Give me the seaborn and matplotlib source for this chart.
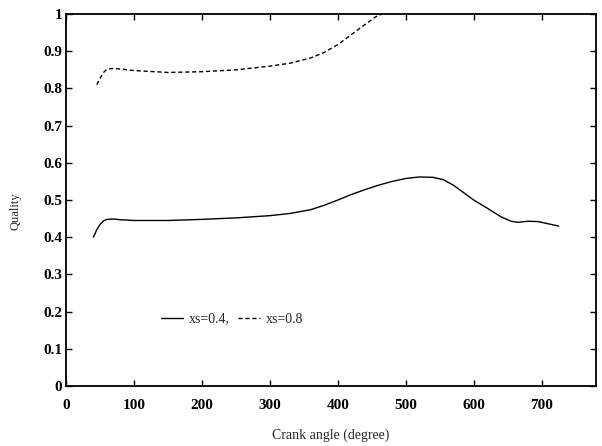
import matplotlib
matplotlib.use("Agg")
import matplotlib.pyplot as plt
import seaborn as sns
import pandas as pd
from matplotlib.ticker import FuncFormatter

# xs = 0.4 (solid)
angle_04 = [40, 45, 50, 55, 60, 70, 80, 100, 150, 200, 250, 300, 330, 360, 380, 400, 420, 440, 460, 480, 500, 520, 540, 555, 570, 585, 600, 620, 640, 655, 665, 680, 695, 710, 725]
qual_04 = [0.40, 0.42, 0.435, 0.444, 0.448, 0.449, 0.447, 0.445, 0.445, 0.448, 0.452, 0.458, 0.464, 0.474, 0.486, 0.500, 0.515, 0.528, 0.540, 0.550, 0.558, 0.562, 0.561, 0.555, 0.540, 0.520, 0.500, 0.478, 0.455, 0.443, 0.440, 0.443, 0.442, 0.436, 0.43]
# xs = 0.8 (dashed)
angle_08 = [45, 50, 55, 60, 70, 80, 100, 150, 200, 250, 300, 330, 360, 380, 400, 420, 440, 455, 465]
qual_08 = [0.81, 0.828, 0.843, 0.852, 0.854, 0.852, 0.848, 0.843, 0.845, 0.850, 0.860, 0.868, 0.882, 0.897, 0.918, 0.945, 0.972, 0.992, 1.0]

x_ticks = [0, 100, 200, 300, 400, 500, 600, 700]
y_ticks = [0, 0.1, 0.2, 0.3, 0.4, 0.5, 0.6, 0.7, 0.8, 0.9, 1.0]

sns.set_theme(style="ticks")
plt.rcParams['font.family'] = ['Liberation Serif', 'DejaVu Serif']

df04 = pd.DataFrame({"angle": angle_04, "q": qual_04})
df08 = pd.DataFrame({"angle": angle_08, "q": qual_08})

fig = plt.figure(figsize=(6.02, 4.46), dpi=100)
ax = fig.add_axes([0.11, 0.1345, 0.88, 0.834])

sns.lineplot(data=df04, x="angle", y="q", ax=ax, color="black", lw=1.0, label="xs=0.4,")
sns.lineplot(data=df08, x="angle", y="q", ax=ax, color="black", lw=1.0, linestyle=(0, (3, 2)), label="xs=0.8")

ax.set_xlim(0, 780)
ax.set_ylim(0, 1)
ax.set_xticks(x_ticks)
ax.set_yticks(y_ticks)
ax.yaxis.set_major_formatter(FuncFormatter(lambda v, p: "0" if v == 0 else ("1" if v == 1 else f"{v:.1f}")))
ax.tick_params(direction="in", top=True, right=True, labeltop=False, labelright=False,
               length=4, width=1, labelsize=11, colors="black", pad=3)
ax.tick_params(axis="x", pad=9)
for lab in ax.get_xticklabels() + ax.get_yticklabels():
    lab.set_fontweight("bold")
for s in ax.spines.values():
    s.set_linewidth(1.3)
    s.set_color("black")
ax.set_xlabel("Crank angle (degree)", fontsize=10, labelpad=12)
ax.set_ylabel("Quality", fontsize=9)
ax.yaxis.set_label_coords(-0.085, 0.47)

leg = ax.legend(loc="center left", bbox_to_anchor=(0.155, 0.18), ncol=2, frameon=False,
                fontsize=10, handlelength=1.6, handletextpad=0.4, columnspacing=0.6)

fig.savefig("out.png", dpi=100)
